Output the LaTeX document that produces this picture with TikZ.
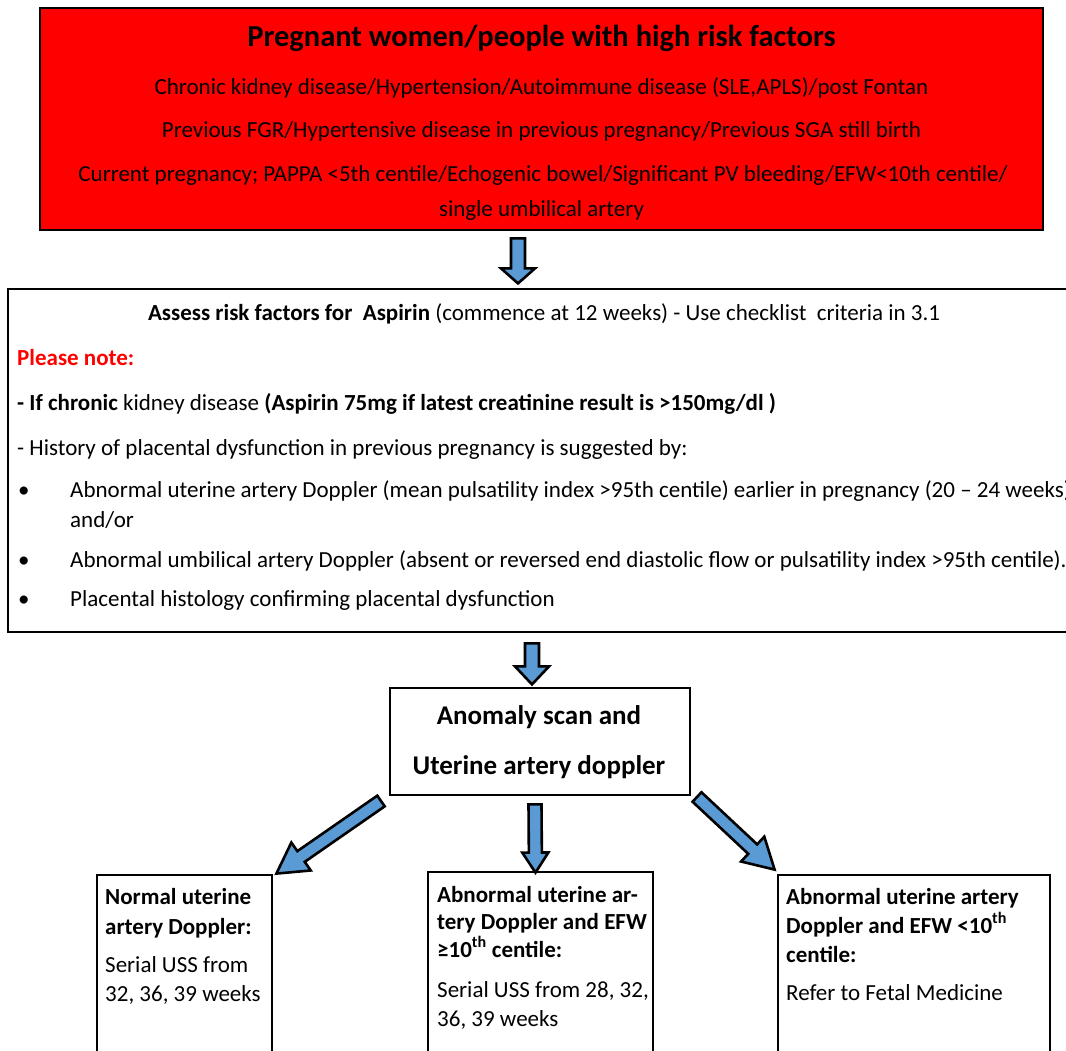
\documentclass[tikz,border=0pt]{standalone}
\usepackage{fontspec}
\setmainfont{Carlito}
\usetikzlibrary{calc}
\definecolor{riskred}{HTML}{FF0000}
\definecolor{arrowblue}{HTML}{5B9BD5}
% block arrow: tail, tip, half shaft, half head, head length
\newcommand\fatarrow[5]{%
  \draw[fat] let \p1=($(#2)-(#1)$), \n1={atan2(\y1,\x1)} in
    ($(#1)+(\n1+90:#3)$) -- ($(#2)+(\n1+180:#5)+(\n1+90:#3)$)
    -- ($(#2)+(\n1+180:#5)+(\n1+90:#4)$) -- (#2)
    -- ($(#2)+(\n1+180:#5)+(\n1-90:#4)$) -- ($(#2)+(\n1+180:#5)+(\n1-90:#3)$)
    -- ($(#1)+(\n1-90:#3)$) -- cycle;}
\begin{document}
\begin{tikzpicture}[x=1pt,y=1pt,
  box/.style={draw, line width=2.8pt, fill=white, inner sep=0pt},
  fat/.style={draw, line width=2.6pt, fill=arrowblue, line join=miter},
  ltxt/.style={anchor=base west, inner sep=0pt, font=\fontsize{23}{27}\selectfont},
  ctxt/.style={ltxt, anchor=base},
  title/.style={ctxt, font=\fontsize{30.5}{34}\selectfont\bfseries},
  head/.style={ctxt, font=\fontsize{27}{31}\selectfont\bfseries},
  ]
  \useasboundingbox (0,0) rectangle (1066,-1051);
  \clip (0,0) rectangle (1066,-1051);
  % ---- risk factors --------------------------------------------------------
  \node[box, fill=riskred, minimum width=1003, minimum height=222] (risk) at (541.5,-119) {};
  \node[title] (riskt) at (541.5,-47) {Pregnant women/people with high risk factors};
  \node[ctxt] (risk1) at (541.5,-95) {Chronic kidney disease/Hypertension/Autoimmune disease (SLE,APLS)/post Fontan};
  \node[ctxt] (risk2) at (541.5,-138) {Previous FGR/Hypertensive disease in previous pregnancy/Previous SGA still birth};
  \node[ctxt] (risk3) at (543,-182) {Current pregnancy; PAPPA <5th centile/Echogenic bowel/Significant PV bleeding/EFW<10th centile/};
  \node[ctxt] (risk4) at (541.5,-217) {single umbilical artery};
  % ---- aspirin -------------------------------------------------------------
  \node[box, minimum width=1072, minimum height=343] (aspirin) at (544,-460.5) {};
  \node[ctxt] (asp0) at (544,-320) {\textbf{Assess risk factors for\ \ Aspirin} (commence at 12 weeks) - Use checklist\ \ criteria in 3.1};
  \node[ltxt, text=riskred] (asp1) at (17,-365) {\textbf{Please note:}};
  \node[ltxt] (asp2) at (17,-410) {\textbf{- If chronic} kidney disease \textbf{(Aspirin 75mg if latest creatinine result is >150mg/dl )}};
  \node[ltxt] (asp3) at (17,-455) {- History of placental dysfunction in previous pregnancy is suggested by:};
  \foreach \y in {497,567,606} { \node[ltxt] (dot\y) at (18,-\y) {\textbullet}; }
  \node[ltxt] (asp4) at (70,-497) {Abnormal uterine artery Doppler (mean pulsatility index >95th centile) earlier in pregnancy (20 – 24 weeks)};
  \node[ltxt] (asp5) at (70,-527) {and/or};
  \node[ltxt] (asp6) at (70,-567) {Abnormal umbilical artery Doppler (absent or reversed end diastolic flow or pulsatility index >95th centile).};
  \node[ltxt] (asp7) at (70,-606) {Placental histology confirming placental dysfunction};
  % ---- scan ----------------------------------------------------------------
  \node[box, minimum width=300, minimum height=107] (scan) at (540,-741.5) {};
  \node[head] (scan1) at (539,-724) {Anomaly scan and};
  \node[head] (scan2) at (539,-774) {Uterine artery doppler};
  % ---- outcomes ------------------------------------------------------------
  \node[box, minimum width=175, minimum height=195] (normal) at (184.5,-972.5) {};
  \node[ltxt] (n1) at (105,-904) {\textbf{Normal uterine}};
  \node[ltxt] (n2) at (105,-934) {\textbf{artery Doppler:}};
  \node[ltxt] (n3) at (105,-972) {Serial USS from};
  \node[ltxt] (n4) at (105,-1001) {32, 36, 39 weeks};
  \node[box, minimum width=225, minimum height=198] (abnok) at (540.5,-971) {};
  \node[ltxt] (m1) at (437,-902) {\textbf{Abnormal uterine ar-}};
  \node[ltxt] (m2) at (437,-929) {\textbf{tery Doppler and EFW}};
  \node[ltxt] (m3) at (437,-957) {\textbf{≥10\textsuperscript{th} centile:}};
  \node[ltxt] (m4) at (437,-997) {Serial USS from 28, 32,};
  \node[ltxt] (m5) at (437,-1026) {36, 39 weeks};
  \node[box, minimum width=272, minimum height=195] (abnlow) at (914,-972.5) {};
  \node[ltxt] (r1) at (786,-904) {\textbf{Abnormal uterine artery}};
  \node[ltxt] (r2) at (786,-933) {\textbf{Doppler and EFW <10\textsuperscript{th}}};
  \node[ltxt] (r3) at (786,-962) {\textbf{centile:}};
  \node[ltxt] (r4) at (786,-1000) {Refer to Fetal Medicine};
  % ---- arrows --------------------------------------------------------------
  \coordinate (t1) at ($(risk.south)+(-23.5,-7)$);   \coordinate (h1) at ($(t1)+(0,-45)$);
  \coordinate (t2) at ($(aspirin.south)+(-12,-10)$); \coordinate (h2) at ($(t2)+(0,-41)$);
  \coordinate (t3) at (381,-801);                    \coordinate (h3) at ($(normal.north east)+(3,0)$);
  \coordinate (t4) at ($(scan.south)+(-5,-8)$);      \coordinate (h4) at ($(abnok.north)+(-5,-2)$);
  \coordinate (t5) at (697,-797);                    \coordinate (h5) at ($(abnlow.north west)+(-2,4)$);
  \fatarrow{t1}{h1}{7}{17}{15}
  \fatarrow{t2}{h2}{7}{17}{18}
  \fatarrow{t3}{h3}{6.5}{17}{30}
  \fatarrow{t4}{h4}{6.5}{13}{20}
  \fatarrow{t5}{h5}{6.5}{17}{30}
\end{tikzpicture}
\end{document}
